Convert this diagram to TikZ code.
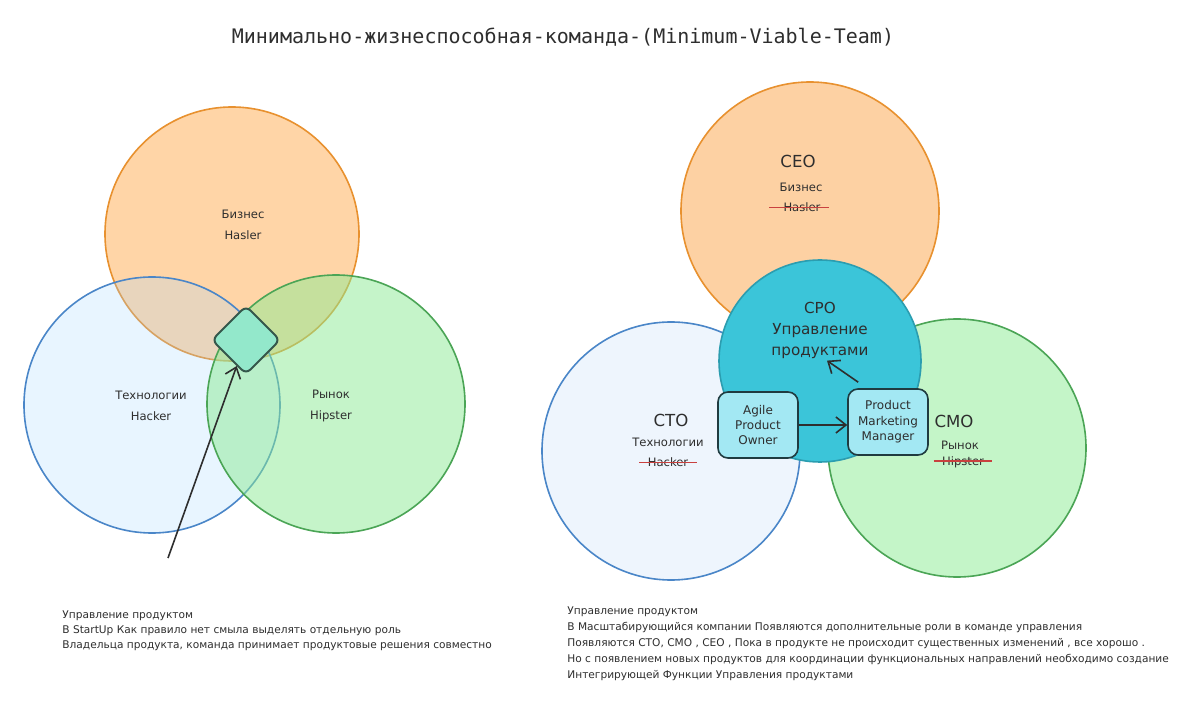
\documentclass[tikz,border=0pt]{standalone}
\usepackage{fontspec}
\setmainfont{DejaVu Sans}
\newfontfamily\titlefont{DejaVu Sans Mono}
\usetikzlibrary{arrows.meta,calc}
\definecolor{ink}{HTML}{2E2E2E}
\definecolor{orF}{HTML}{FFC078}
\definecolor{orS}{HTML}{E8912F}
\definecolor{blF}{HTML}{A5D8FF}
\definecolor{blS}{HTML}{4A86C8}
\definecolor{grF}{HTML}{8CEB94}
\definecolor{grS}{HTML}{4BA556}
\definecolor{ceoF}{HTML}{FDD1A3}
\definecolor{ctoF}{HTML}{EEF5FD}
\definecolor{cmoF}{HTML}{C4F5C8}
\definecolor{cpoF}{HTML}{3BC5D9}
\definecolor{cpoS}{HTML}{2B9DB0}
\definecolor{boxF}{HTML}{A3E8F3}
\definecolor{boxS}{HTML}{1F3B40}
\definecolor{diaF}{HTML}{93E8CB}
\definecolor{diaS}{HTML}{35574B}
\definecolor{strikeC}{HTML}{C9413F}
\tikzset{
  vc/.style={circle, inner sep=0pt, line width=0.8pt},
  lbl/.style={inner sep=0pt, text=ink, font=\fontsize{5.8}{7}\selectfont},
  biglbl/.style={inner sep=0pt, text=ink, font=\fontsize{8.3}{10}\selectfont},
  cpotxt/.style={inner sep=0pt, text=ink, align=center, font=\fontsize{7.6}{10.5}\selectfont},
  rolebox/.style={draw=boxS, fill=boxF, rounded corners=5pt, minimum width=40pt, minimum height=33pt, line width=0.8pt, align=center, inner sep=0pt, text=ink, font=\fontsize{6}{7.7}\selectfont},
  diabox/.style={draw=diaS, fill=diaF, rounded corners=3pt, minimum size=24pt, inner sep=0pt, line width=1pt, rotate=45},
  arr/.style={draw=ink, line width=0.8pt, -{Straight Barb[length=5pt,width=8pt]}},
  strike/.style={draw=strikeC, line width=0.7pt},
  para/.style={inner sep=0pt, anchor=north west, align=left, text=ink, font=\fontsize{5.3}{7.6}\selectfont},
  ttl/.style={inner sep=0pt, text=ink, font=\titlefont\fontsize{10}{12}\selectfont}
}
\begin{document}
\begin{tikzpicture}[x=0.5pt,y=-0.5pt]
\useasboundingbox (0,0) rectangle (1200,705);
\fill[white] (0,0) rectangle (1200,705);

\node[ttl] (title) at (563,37) {Минимально-жизнеспособная-команда-(Minimum-Viable-Team)};

% ---------- left diagram ----------
\node[vc, fill=orF, fill opacity=0.65, draw=orS, minimum size=127pt] (biz) at (232,234) {};
\node[vc, fill=blF, fill opacity=0.25, draw=blS, minimum size=128pt] (tech) at (152,405) {};
\node[vc, fill=grF, fill opacity=0.5, draw=grS, minimum size=129pt] (mkt) at (336,404) {};

\node[lbl] (bizA) at (243,214) {Бизнес};
\node[lbl] (bizB) at (243,235) {Hasler};
\node[lbl] (techA) at (151,395) {Технологии};
\node[lbl] (techB) at (151,416) {Hacker};
\node[lbl] (mktA) at (331,394) {Рынок};
\node[lbl] (mktB) at (331,416) {Hipster};

\node[diabox] (dia) at (246,340) {};
\coordinate (astart) at (168,558);
\draw[arr] (astart) -- (dia);

% ---------- right diagram ----------
\node[vc, fill=ceoF, draw=orS, minimum size=129pt] (ceo) at (810,211) {};
\node[vc, fill=ctoF, draw=blS, minimum size=129pt] (cto) at (671,451) {};
\node[vc, fill=cmoF, draw=grS, minimum size=129pt] (cmo) at (957,448) {};
\node[vc, fill=cpoF, draw=cpoS, minimum size=101pt] (cpo) at (820,361) {};

\node[biglbl] (ceoA) at (798,161) {CEO};
\node[lbl] (ceoB) at (801,187) {Бизнес};
\node[lbl] (ceoC) at (802,207) {Hasler};
\draw[strike] ([xshift=-7pt,yshift=-0.7pt]ceoC.mid west) -- ([xshift=4pt,yshift=-0.7pt]ceoC.mid east);

\node[biglbl] (ctoA) at (671,420) {CTO};
\node[lbl] (ctoB) at (668,442) {Технологии};
\node[lbl] (ctoC) at (668,462) {Hacker};
\draw[strike] ([xshift=-4pt,yshift=-0.7pt]ctoC.mid west) -- ([xshift=4pt,yshift=-0.7pt]ctoC.mid east);

\node[biglbl] (cmoA) at (954,421) {CMO};
\node[lbl] (cmoB) at (960,445) {Рынок};
\node[lbl] (cmoC) at (963,462) {Hipster};
\draw[strike] ([xshift=-4pt,yshift=-0.7pt]cmoC.mid west) -- ([xshift=4pt,yshift=-0.7pt]cmoC.mid east);

\node[cpotxt] (cpol) at (820,330) {CPO\\Управление\\продуктами};

\node[rolebox] (apo) at (758,425) {Agile\\Product\\Owner};
\node[rolebox] (pmm) at (888,422) {Product\\Marketing\\Manager};

\draw[arr] (apo.east) -- (apo.east -| pmm.west);
\draw[arr] ($(pmm.north west)+(11,-6)$) -- ($(cpol.south)+(7,2)$);

% ---------- notes ----------
\node[para] (noteL) at (62,610) {Управление продуктом\\В StartUp Как правило нет смыла выделять отдельную роль\\Владельца продукта, команда принимает продуктовые решения совместно};
\node[para, font=\fontsize{5.3}{8}\selectfont] (noteR) at (567,606) {Управление продуктом\\В Масштабирующийся компании Появляются дополнительные роли в команде управления\\Появляются CTO, CMO , CEO , Пока в продукте не происходит существенных изменений , все хорошо .\\Но с появлением новых продуктов для координации функциональных направлений необходимо создание\\Интегрирующей Функции Управления продуктами};
\end{tikzpicture}
\end{document}
